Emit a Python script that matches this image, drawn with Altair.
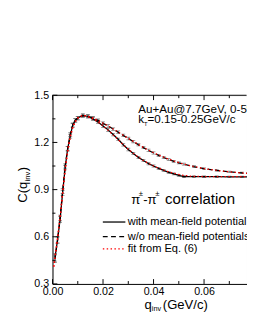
import altair as alt
import pandas as pd

# ---------------- data ----------------
q_data = [0.001, 0.002, 0.003, 0.004, 0.005, 0.006, 0.007, 0.008, 0.009, 0.010,
          0.012, 0.014, 0.016, 0.018, 0.020, 0.022, 0.024, 0.026, 0.028, 0.030,
          0.032, 0.034, 0.036, 0.038, 0.040, 0.042, 0.044, 0.046, 0.048, 0.050,
          0.052, 0.056, 0.060, 0.065, 0.070, 0.075, 0.080]
c_with = [0.47, 0.58, 0.71, 0.88, 1.04, 1.16, 1.24, 1.31, 1.34, 1.355,
          1.372, 1.365, 1.35, 1.33, 1.305, 1.28, 1.25, 1.22, 1.185, 1.155,
          1.13, 1.105, 1.085, 1.065, 1.05, 1.035, 1.022, 1.01, 1.0, 0.99,
          0.983, 0.982, 0.982, 0.982, 0.981, 0.981, 0.98]
c_without = [0.46, 0.58, 0.72, 0.89, 1.05, 1.16, 1.25, 1.31, 1.34, 1.355,
             1.37, 1.368, 1.355, 1.34, 1.322, 1.305, 1.285, 1.265, 1.245, 1.225,
             1.205, 1.185, 1.167, 1.15, 1.133, 1.118, 1.104, 1.092, 1.08, 1.07,
             1.062, 1.046, 1.033, 1.022, 1.013, 1.006, 1.0]
err = [0.025, 0.02, 0.018, 0.016, 0.014, 0.013, 0.012, 0.012, 0.011, 0.011,
       0.01, 0.01, 0.01, 0.009, 0.009, 0.009, 0.008, 0.008, 0.008, 0.008,
       0.007, 0.007, 0.007, 0.007, 0.007, 0.006, 0.006, 0.006, 0.006, 0.006,
       0.006, 0.006, 0.005, 0.005, 0.005, 0.005, 0.005]

q_fit = [0.0005, 0.001, 0.0015, 0.002, 0.003, 0.004, 0.005, 0.006, 0.007, 0.008,
         0.009, 0.010, 0.011, 0.012, 0.013, 0.014, 0.016, 0.018, 0.020, 0.022,
         0.024, 0.026, 0.028, 0.030, 0.033, 0.036, 0.039, 0.042, 0.045, 0.048,
         0.051, 0.055, 0.060, 0.065, 0.070, 0.075, 0.080]
fit_with = [0.41, 0.47, 0.53, 0.59, 0.72, 0.87, 1.02, 1.14, 1.23, 1.29,
            1.33, 1.355, 1.366, 1.371, 1.37, 1.364, 1.35, 1.33, 1.305, 1.278,
            1.248, 1.218, 1.186, 1.157, 1.118, 1.085, 1.058, 1.036, 1.018, 1.004,
            0.993, 0.985, 0.983, 0.983, 0.983, 0.983, 0.983]
fit_without = [0.41, 0.47, 0.53, 0.59, 0.72, 0.88, 1.03, 1.15, 1.24, 1.30,
               1.335, 1.355, 1.366, 1.37, 1.37, 1.367, 1.356, 1.341, 1.323, 1.305,
               1.286, 1.266, 1.246, 1.226, 1.197, 1.168, 1.143, 1.12, 1.1, 1.082,
               1.067, 1.05, 1.034, 1.022, 1.013, 1.006, 1.0]

x_major = [0.0, 0.02, 0.04, 0.06]
x_minor = [0.01, 0.03, 0.05, 0.07]
y_major = [0.3, 0.6, 0.9, 1.2, 1.5]
y_minor = [0.45, 0.75, 1.05, 1.35]

# ---------------- layout ----------------
W, H = 201, 195
FONT = "Liberation Sans"

xs = alt.Scale(domain=[0, 0.0770], nice=False, zero=False)
ys = alt.Scale(domain=[0.3, 1.5], nice=False, zero=False)
xaxis = alt.Axis(values=x_major, format=".2f", ticks=False, grid=False, title=None,
                 domainColor="black", domainWidth=1, labelFont=FONT, labelFontSize=11,
                 labelColor="black", labelPadding=1.5, labelFlush=False)
yaxis = alt.Axis(values=y_major, format=".1f", ticks=False, grid=False, title=None,
                 domainColor="black", domainWidth=1, labelFont=FONT, labelFontSize=11,
                 labelColor="black", labelPadding=4, labelFlush=False)


def X(f="q"):
    return alt.X(f"{f}:Q", scale=xs, axis=xaxis)


def Y(f="c"):
    return alt.Y(f"{f}:Q", scale=ys, axis=yaxis)


df_with = pd.DataFrame({"q": q_data, "c": c_with,
                        "lo": [c - e for c, e in zip(c_with, err)],
                        "hi": [c + e for c, e in zip(c_with, err)]})
df_without = pd.DataFrame({"q": q_data, "c": c_without,
                           "lo": [c - e for c, e in zip(c_without, err)],
                           "hi": [c + e for c, e in zip(c_without, err)]})
df_fw = pd.DataFrame({"q": q_fit, "c": fit_with})
df_fo = pd.DataFrame({"q": q_fit, "c": fit_without})

layers = []

# invisible anchor (white on white) fixing the empty band above and left of the plot
layers.append(alt.Chart(pd.DataFrame({"a": [0]})).mark_rule(color="white", strokeWidth=0.5)
              .encode(x=alt.value(-45), x2=alt.value(-44.5), y=alt.value(-84)))

# error bars
for d in (df_with, df_without):
    layers.append(alt.Chart(d).mark_rule(color="#555", strokeWidth=0.8, clip=True)
                  .encode(x=X(), y=Y("lo"), y2="hi:Q"))
    for f in ("lo", "hi"):
        layers.append(alt.Chart(d).mark_tick(color="#555", orient="horizontal", size=4,
                                             thickness=0.8, clip=True)
                      .encode(x=X(), y=Y(f)))

# curves
layers.append(alt.Chart(df_with).mark_line(color="black", strokeWidth=1.3, clip=True)
              .encode(x=X(), y=Y()))
layers.append(alt.Chart(df_without).mark_line(color="black", strokeWidth=1.3,
                                              strokeDash=[5, 3], clip=True)
              .encode(x=X(), y=Y()))
for d in (df_fw, df_fo):
    layers.append(alt.Chart(d).mark_line(color="#ff0000", strokeWidth=1.3,
                                         strokeDash=[1.5, 2.5], clip=True)
                  .encode(x=X(), y=Y()))

# inward ticks
for vals, ln in ((x_major, 5), (x_minor, 3)):
    dfx = pd.DataFrame({"q": vals})
    layers.append(alt.Chart(dfx).mark_rule(color="black", strokeWidth=1)
                  .encode(x=X(), y=alt.value(H), y2=alt.value(H - ln)))
    layers.append(alt.Chart(dfx).mark_rule(color="black", strokeWidth=1)
                  .encode(x=X(), y=alt.value(0), y2=alt.value(ln)))
for vals, ln in ((y_major, 5), (y_minor, 3)):
    dfy = pd.DataFrame({"c": vals})
    layers.append(alt.Chart(dfy).mark_rule(color="black", strokeWidth=1)
                  .encode(y=Y(), x=alt.value(0), x2=alt.value(ln)))

# top frame line
layers.append(alt.Chart(pd.DataFrame({"a": [0]})).mark_rule(color="black", strokeWidth=1)
              .encode(x=alt.value(0), x2=alt.value(W - 0.5), y=alt.value(0)))


def txt(s, x, y, size, angle=0, baseline="alphabetic", clip=True):
    return (alt.Chart(pd.DataFrame({"t": [s]}))
            .mark_text(font=FONT, fontSize=size, color="black", align="left",
                       baseline=baseline, angle=angle, clip=clip)
            .encode(x=alt.value(x), y=alt.value(y), text="t:N"))


# annotations (clipped at the plot's right edge like the cropped original)
layers += [
    txt("Au+Au@7.7GeV, 0-5%", 88.7, 18.3, 12),
    txt("k", 88.7, 28.6, 12),
    txt("T", 94.6, 31.3, 6),
    txt("=0.15-0.25GeV/c", 98.2, 28.6, 12),
    txt("\u03c0", 81.3, 112.7, 13.5),
    txt("\u00b1", 89.2, 104.3, 8),
    txt("-", 93.9, 112.7, 13.5),
    txt("\u03c0", 98.2, 112.7, 13.5),
    txt("\u00b1", 106.1, 104.3, 8),
    txt("correlation", 116.3, 112.7, 15.5),
]

# legend
leg = [("with mean-field potential", 131, "black", None),
       ("w/o mean-field potentials", 146, "black", [5, 3.5]),
       ("fit from Eq. (6)", 158.7, "#ff0000", [1.5, 2.5])]
for label, yy, col, dash in leg:
    kw = dict(color=col, strokeWidth=1.3)
    if dash:
        kw["strokeDash"] = dash
    layers.append(alt.Chart(pd.DataFrame({"a": [0]})).mark_rule(**kw)
                  .encode(x=alt.value(52), x2=alt.value(75.3), y=alt.value(yy)))
    layers.append(txt(label, 77.7, yy + 0.5, 11.4, baseline="middle"))

# axis titles
layers += [
    txt("q", 95.0, 221, 13.5, clip=False),
    txt("inv", 102.6, 223.2, 7.5, clip=False),
    txt("(GeV/c)", 114.0, 221, 13.5, clip=False),
    txt("C(q", -26.3, 111, 13.5, angle=270, clip=False),
    txt("inv", -23.5, 89.2, 8, angle=270, clip=False),
    txt(")", -26.3, 78.6, 13.5, angle=270, clip=False),
]

chart = (alt.layer(*layers)
         .properties(width=W, height=H, padding=0)
         .configure_view(stroke=None)
         .configure(background="white"))

chart.save("out.html", embed_options={"renderer": "svg", "actions": False})
